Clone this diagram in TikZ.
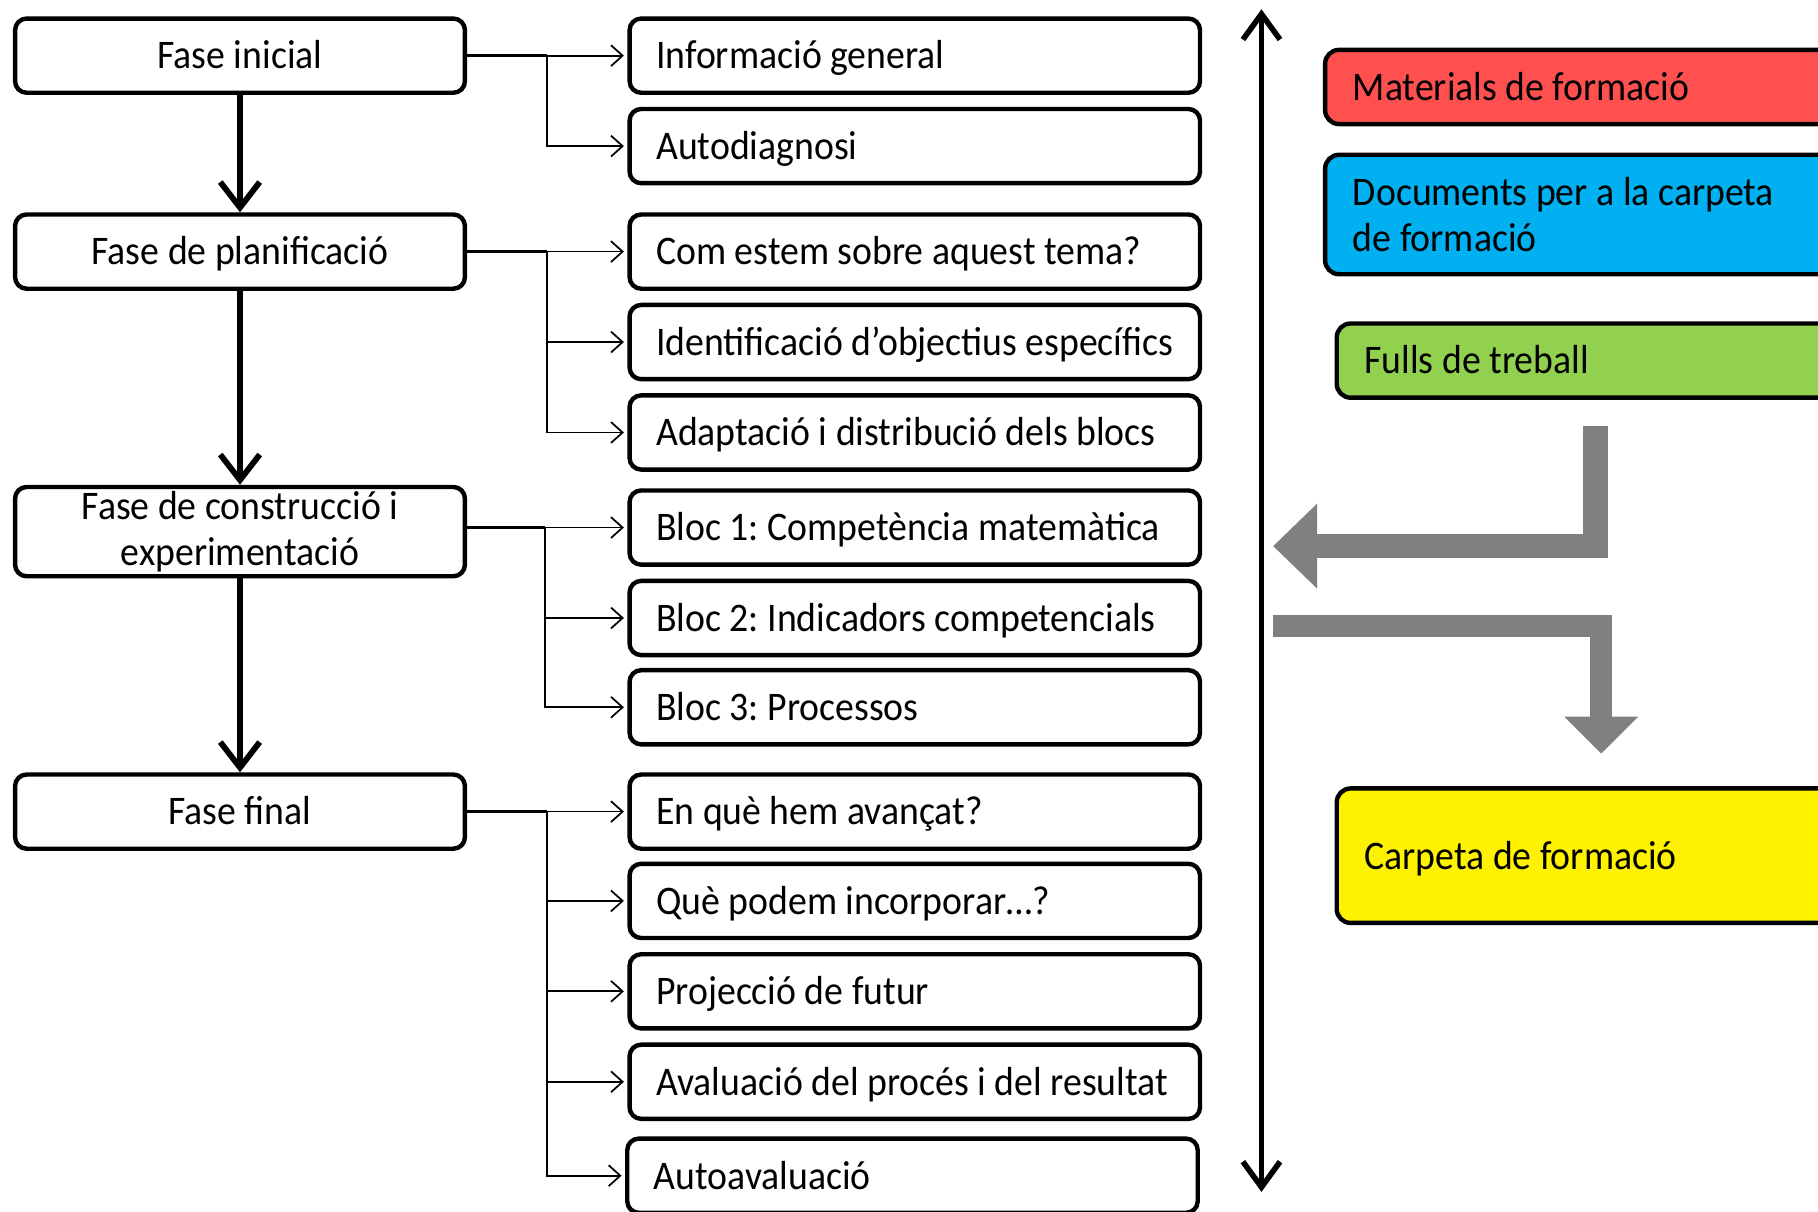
\documentclass[tikz,border=0pt]{standalone}
\usepackage{fontspec}
\setmainfont{Carlito}[FakeStretch=0.93]
\usetikzlibrary{arrows.meta}

\definecolor{matred}{HTML}{FF5050}
\definecolor{docblue}{HTML}{00B0F0}
\definecolor{fullgreen}{HTML}{92D050}
\definecolor{arrgray}{HTML}{808080}

\frenchspacing

\begin{document}
\begin{tikzpicture}[x=0.5pt,y=-0.5pt,
    txt/.style={font=\fontsize{17.5}{19.5}\selectfont},
    oneline/.style={text height=11.5pt, text depth=0pt},
    phase/.style={draw, txt, line width=1.9pt, rounded corners=5pt, minimum width=194pt, minimum height=32pt, inner sep=0pt, align=center},
    item/.style={draw, txt, oneline, line width=1.9pt, rounded corners=5pt, text width=223pt, inner xsep=11.5pt, inner ysep=0pt, minimum height=32pt, align=flush left},
    tag/.style={draw, txt, line width=1.9pt, rounded corners=6pt, text width=206pt, inner xsep=12pt, inner ysep=0pt, minimum height=32pt, align=flush left, anchor=west},
    trunk/.style={line width=1pt},
    branch/.style={line width=0.75pt, -{Straight Barb[length=5pt,width=9pt]}, shorten >=1.5pt},
    down/.style={line width=2.5pt, -{Straight Barb[length=11pt,width=17pt,line width=2.5pt]}},
    bigarrow/.style={arrgray, line width=#1},
  ]
    \clip (0,0) rectangle (1568,1045);

    % phases
    \node[phase, oneline] (fi) at (207,48) {Fase inicial};
    \node[phase, oneline] (fp) at (207,217) {Fase de planificació};
    \node[phase, minimum height=38.5pt] (fc) at (207,458.5) {Fase de construcció i\\experimentació};
    \node[phase, oneline] (ff) at (207,700) {Fase final};

    \draw[down] (fi.south) -- (fp.north);
    \draw[down] (fp.south) -- (fc.north);
    \draw[down] (fc.south) -- (ff.north);

    % activities
    \node[item] (info) at (789,48) {Informació general};
    \node[item] (auto) at (789,126) {Autodiagnosi};
    \node[item] (com) at (789,217) {Com estem sobre aquest tema?};
    \node[item] (obj) at (789,295) {Identificació d’objectius específics};
    \node[item] (adap) at (789,373) {Adaptació i distribució dels blocs};
    \node[item] (b1) at (789,455) {Bloc 1: Competència matemàtica};
    \node[item] (b2) at (789,533) {Bloc 2: Indicadors competencials};
    \node[item] (b3) at (789,610) {Bloc 3: Processos};
    \node[item] (ava) at (789,700) {En què hem avançat?};
    \node[item] (inc) at (789,777) {Què podem incorporar…?};
    \node[item] (fut) at (789,855) {Projecció de futur};
    \node[item] (res) at (789,933) {Avaluació del procés i del resultat};
    \node[item] (aa) at (787,1014) {Autoavaluació};

    % branches
    \coordinate (j1) at (472,48);
    \draw[trunk] (fi.east) -- (j1);
    \draw[branch] (j1) -- (info.west);
    \draw[branch] (j1) |- (auto.west);

    \coordinate (j2) at (472,217);
    \draw[trunk] (fp.east) -- (j2);
    \draw[branch] (j2) -- (com.west);
    \draw[branch] (j2) |- (obj.west);
    \draw[branch] (j2) |- (adap.west);

    \coordinate (j3) at (470,455);
    \draw[trunk] (fc.east |- j3) -- (j3);
    \draw[branch] (j3) -- (b1.west);
    \draw[branch] (j3) |- (b2.west);
    \draw[branch] (j3) |- (b3.west);

    \coordinate (j4) at (472,700);
    \draw[trunk] (ff.east) -- (j4);
    \draw[branch] (j4) -- (ava.west);
    \draw[branch] (j4) |- (inc.west);
    \draw[branch] (j4) |- (fut.west);
    \draw[branch] (j4) |- (res.west);
    \draw[branch] (j4) |- (aa.west);

    % time line
    \coordinate (tl-top) at (1088,8);
    \coordinate (tl-bot) at (1088,1028);
    \draw[line width=2.4pt, {Straight Barb[length=11pt,width=16pt,line width=2.4pt]}-{Straight Barb[length=11pt,width=16pt,line width=2.4pt]}] (tl-top) -- (tl-bot);

    % materials
    \node[tag, oneline, fill=matred] (mat) at (1141,75) {Materials de formació};
    \node[tag, fill=docblue, minimum height=51.5pt] (doc) at (1141,185) {Documents per a la carpeta\\de formació};
    \node[tag, oneline, fill=fullgreen] (fulls) at (1151,311) {Fulls de treball};
    \node[tag, oneline, fill=yellow, minimum height=58pt] (carp) at (1151,738) {Carpeta de formació};

    % gray arrows
    \coordinate (g1-start) at (1376,367);
    \coordinate (g1-end) at (1098,471);
    \draw[bigarrow=10.5pt, -{Triangle[length=19pt,width=35.5pt]}] (g1-start) |- (g1-end);
    \coordinate (g2-start) at (1098,540);
    \coordinate (g2-end) at (1381,650);
    \draw[bigarrow=9.5pt, -{Triangle[length=16pt,width=31pt]}] (g2-start) -| (g2-end);
\end{tikzpicture}
\end{document}
